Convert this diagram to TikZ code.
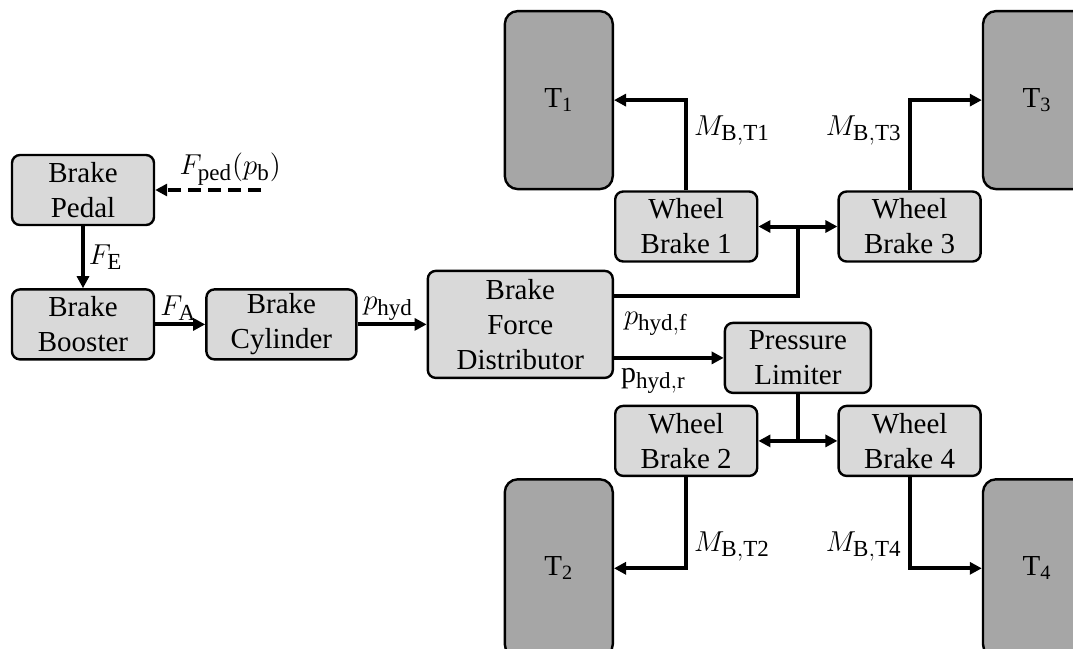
\documentclass[tikz,border=0pt]{standalone}
\usepackage{fontspec}
\setmainfont{Liberation Serif}
\DeclareMathSizes{15}{15}{11.5}{9}
\usetikzlibrary{arrows.meta,positioning,calc}
\tikzset{
  blk/.style  = {rectangle, rounded corners=4pt, draw=black, line width=1.2pt, fill=black!15,
                 align=center, font=\fontsize{14.5}{17.5}\selectfont,
                 minimum width=71pt, minimum height=35pt, inner sep=1pt},
  tyre/.style = {blk, fill=black!35, rounded corners=6.5pt, minimum width=54pt, minimum height=89pt},
  fl/.style   = {-{Triangle[length=6pt,width=6pt]}, line width=2pt},
  fld/.style  = {fl, dash pattern=on 6.5pt off 3.5pt},
  flb/.style  = {{Triangle[length=6pt,width=6pt]}-{Triangle[length=6pt,width=6pt]}, line width=2pt},
  ln/.style   = {line width=2pt},
  lbl/.style  = {font=\fontsize{15}{18}\selectfont, inner sep=0pt},
}
\begin{document}
\begin{tikzpicture}[x=0.5pt,y=-0.5pt]
  \path[use as bounding box, clip] (0,0) rectangle (1073,649);

  \node[blk] (pedal) at (83,190) {Brake\\ Pedal};
  \node[blk, below=31pt of pedal] (booster) {Brake\\ Booster};
  \node[blk, right=25pt of booster, minimum width=75pt] (cyl) {Brake\\ Cylinder};
  \node[blk, right=34.5pt of cyl, minimum width=92.5pt, minimum height=53.5pt] (bfd) {Brake\\ Force\\ Distributor};

  \node[blk, above right=3.5pt and 0pt of bfd] (wb1) {Wheel\\ Brake 1};
  \node[blk, right=39.5pt of wb1] (wb3) {Wheel\\ Brake 3};
  \coordinate (jf) at ($(wb1.east)!0.5!(wb3.west)$);
  \node[blk, minimum width=73pt, below=29.5pt of jf |- wb1.south] (pl) {Pressure\\ Limiter};
  \node[blk, below=71pt of wb1] (wb2) {Wheel\\ Brake 2};
  \node[blk, below=71pt of wb3] (wb4) {Wheel\\ Brake 4};
  \coordinate (jr) at ($(wb2.east)!0.5!(wb4.west)$);

  \node[tyre, above left=0pt and 0pt of wb1] (t1) {T\textsubscript{1}};
  \node[tyre, above right=0pt and 0pt of wb3] (t3) {T\textsubscript{3}};
  \node[tyre, below left=0.5pt and 0pt of wb2] (t2) {T\textsubscript{2}};
  \node[tyre, below right=0.5pt and 0pt of wb4] (t4) {T\textsubscript{4}};

  \coordinate (ped) at ([xshift=53pt]pedal.east);

  \draw[fld] (ped) -- node[lbl, above=1.5pt, xshift=11pt] {$F_{\mathrm{ped}}(p_{\mathrm{b}})$} (pedal.east);
  \draw[fl] (pedal) -- node[lbl, right=2pt] {$F_{\mathrm{E}}$} (booster);
  \draw[fl] (booster) -- node[lbl, above=1pt, xshift=-1pt] {$F_{\mathrm{A}}$} (cyl);
  \draw[fl] (cyl) -- node[lbl, above=1pt, xshift=-2pt] {$p_{\mathrm{hyd}}$} (bfd);

  \draw[ln] ([yshift=14.25pt]bfd.east) -| (jf)
    node[lbl, pos=0, below right=7pt and 4pt] {$p_{\mathrm{hyd,f}}$};
  \draw[flb] (wb1.east) -- (wb3.west);
  \draw[fl] (bfd.east |- pl) -- (pl.west)
    node[lbl, pos=0, below right=4pt and 2.5pt] {$\mathrm{p}_{\mathrm{hyd,r}}$};
  \draw[ln] (pl.south) -- (jr);
  \draw[flb] (wb2.east) -- (wb4.west);

  \draw[fl] (wb1.north) |- node[lbl, pos=0.33, right=3pt] {$M_{\mathrm{B,T1}}$} (t1.east);
  \draw[fl] (wb3.north) |- node[lbl, pos=0.33, left=3pt] {$M_{\mathrm{B,T3}}$} (t3.west);
  \draw[fl] (wb2.south) |- node[lbl, pos=0.38, right=3pt] {$M_{\mathrm{B,T2}}$} (t2.east);
  \draw[fl] (wb4.south) |- node[lbl, pos=0.38, left=3pt] {$M_{\mathrm{B,T4}}$} (t4.west);

\end{tikzpicture}
\end{document}
